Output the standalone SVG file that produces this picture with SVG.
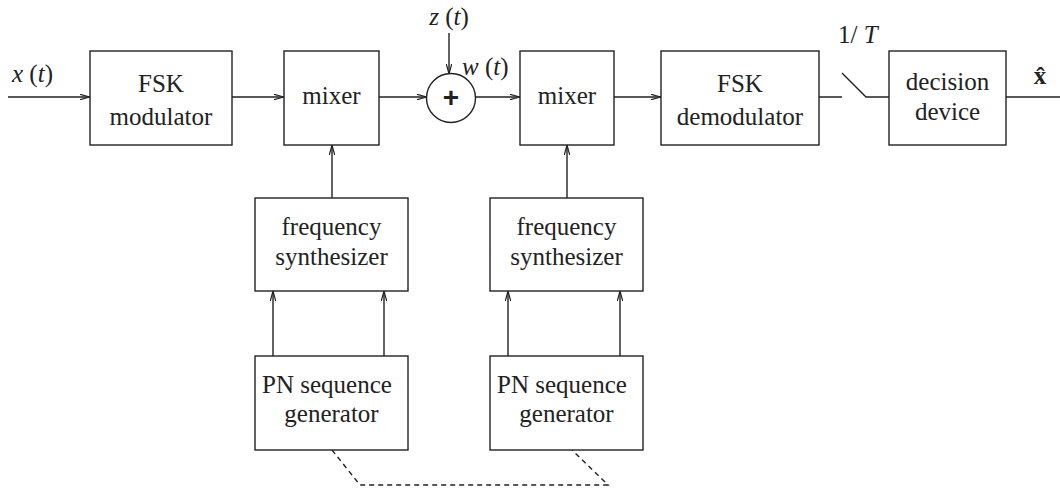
<svg xmlns="http://www.w3.org/2000/svg" width="1060" height="491" viewBox="0 0 1060 491">
<defs>
<marker id="ar" viewBox="0 0 10 6" refX="10" refY="3" markerWidth="10" markerHeight="6" markerUnits="userSpaceOnUse" orient="auto">
<path d="M0,0.3 L10,3 L0,5.7" fill="none" stroke="#222" stroke-width="1.2"/>
</marker>
</defs>
<style>
rect.b{fill:#fff;stroke:#222;stroke-width:1.4}
.t{font-family:"Liberation Serif",serif;font-size:25px;fill:#222;text-anchor:middle}
.i{font-style:italic}
.c line,.c path{stroke:#222;stroke-width:1.4;fill:none}
.c .a{marker-end:url(#ar)}
.c .d{stroke-dasharray:5,4}
</style>
<rect width="1060" height="491" fill="#fff"/>
<g class="c" id="connectors">
<line class="a" x1="8" y1="97" x2="90" y2="97"/>
<line class="a" x1="232" y1="97" x2="284" y2="97"/>
<line class="a" x1="379" y1="97" x2="427" y2="97"/>
<line class="a" x1="449" y1="33" x2="449" y2="74"/>
<line class="a" x1="475" y1="97" x2="520" y2="97"/>
<line class="a" x1="614" y1="97" x2="661" y2="97"/>
<path d="M819,97 L842,97 M842,73 L866,97 L889,97"/>
<line x1="1006" y1="97" x2="1060" y2="97"/>
<line class="a" x1="332" y1="198" x2="332" y2="145"/>
<line class="a" x1="567" y1="198" x2="567" y2="145"/>
<line class="a" x1="273" y1="356" x2="273" y2="291"/>
<line class="a" x1="384" y1="356" x2="384" y2="291"/>
<line class="a" x1="508" y1="356" x2="508" y2="291"/>
<line class="a" x1="620" y1="356" x2="620" y2="291"/>
<path class="d" d="M332,450 L360,485 L608,485 L572,450"/>
</g>
<g id="labels">
<text class="t" x="12" y="82" style="text-anchor:start"><tspan class="i">x</tspan> (<tspan class="i">t</tspan>)</text>
<text class="t" x="449" y="25"><tspan class="i">z</tspan> (<tspan class="i">t</tspan>)</text>
<text class="t" x="462" y="75" style="text-anchor:start"><tspan class="i">w</tspan> (<tspan class="i">t</tspan>)</text>
<text class="t" x="838" y="43" style="text-anchor:start">1/ <tspan class="i">T</tspan></text>
<text class="t" x="1040" y="84" style="font-weight:bold">x̂</text>
</g>
<g id="fsk-mod"><rect class="b" x="90" y="51" width="142" height="94"/><text class="t" x="161" y="92">FSK</text><text class="t" x="161" y="125">modulator</text></g>
<g id="mixer1"><rect class="b" x="284" y="51" width="95" height="94"/><text class="t" x="331.5" y="104">mixer</text></g>
<g id="adder"><circle cx="451" cy="98" r="24.5" fill="#fff" stroke="#222" stroke-width="1.4"/><text x="451" y="107" style="font-family:'Liberation Sans',sans-serif;font-weight:bold;font-size:28px;text-anchor:middle;fill:#222">+</text></g>
<g id="mixer2"><rect class="b" x="520" y="51" width="94" height="94"/><text class="t" x="567" y="104">mixer</text></g>
<g id="fsk-demod"><rect class="b" x="661" y="51" width="158" height="94"/><text class="t" x="740" y="92">FSK</text><text class="t" x="740" y="125">demodulator</text></g>
<g id="decision"><rect class="b" x="889" y="51" width="117" height="94"/><text class="t" x="947.5" y="90">decision</text><text class="t" x="947.5" y="120">device</text></g>
<g id="synth1"><rect class="b" x="255" y="198" width="153" height="93"/><text class="t" x="331.5" y="235">frequency</text><text class="t" x="331.5" y="265">synthesizer</text></g>
<g id="synth2"><rect class="b" x="490" y="198" width="153" height="93"/><text class="t" x="566.5" y="235">frequency</text><text class="t" x="566.5" y="265">synthesizer</text></g>
<g id="pn1"><rect class="b" x="255" y="356" width="153" height="94"/><text class="t" x="327" y="393">PN sequence</text><text class="t" x="331.5" y="422">generator</text></g>
<g id="pn2"><rect class="b" x="490" y="356" width="153" height="94"/><text class="t" x="562" y="393">PN sequence</text><text class="t" x="566.5" y="422">generator</text></g>
</svg>
